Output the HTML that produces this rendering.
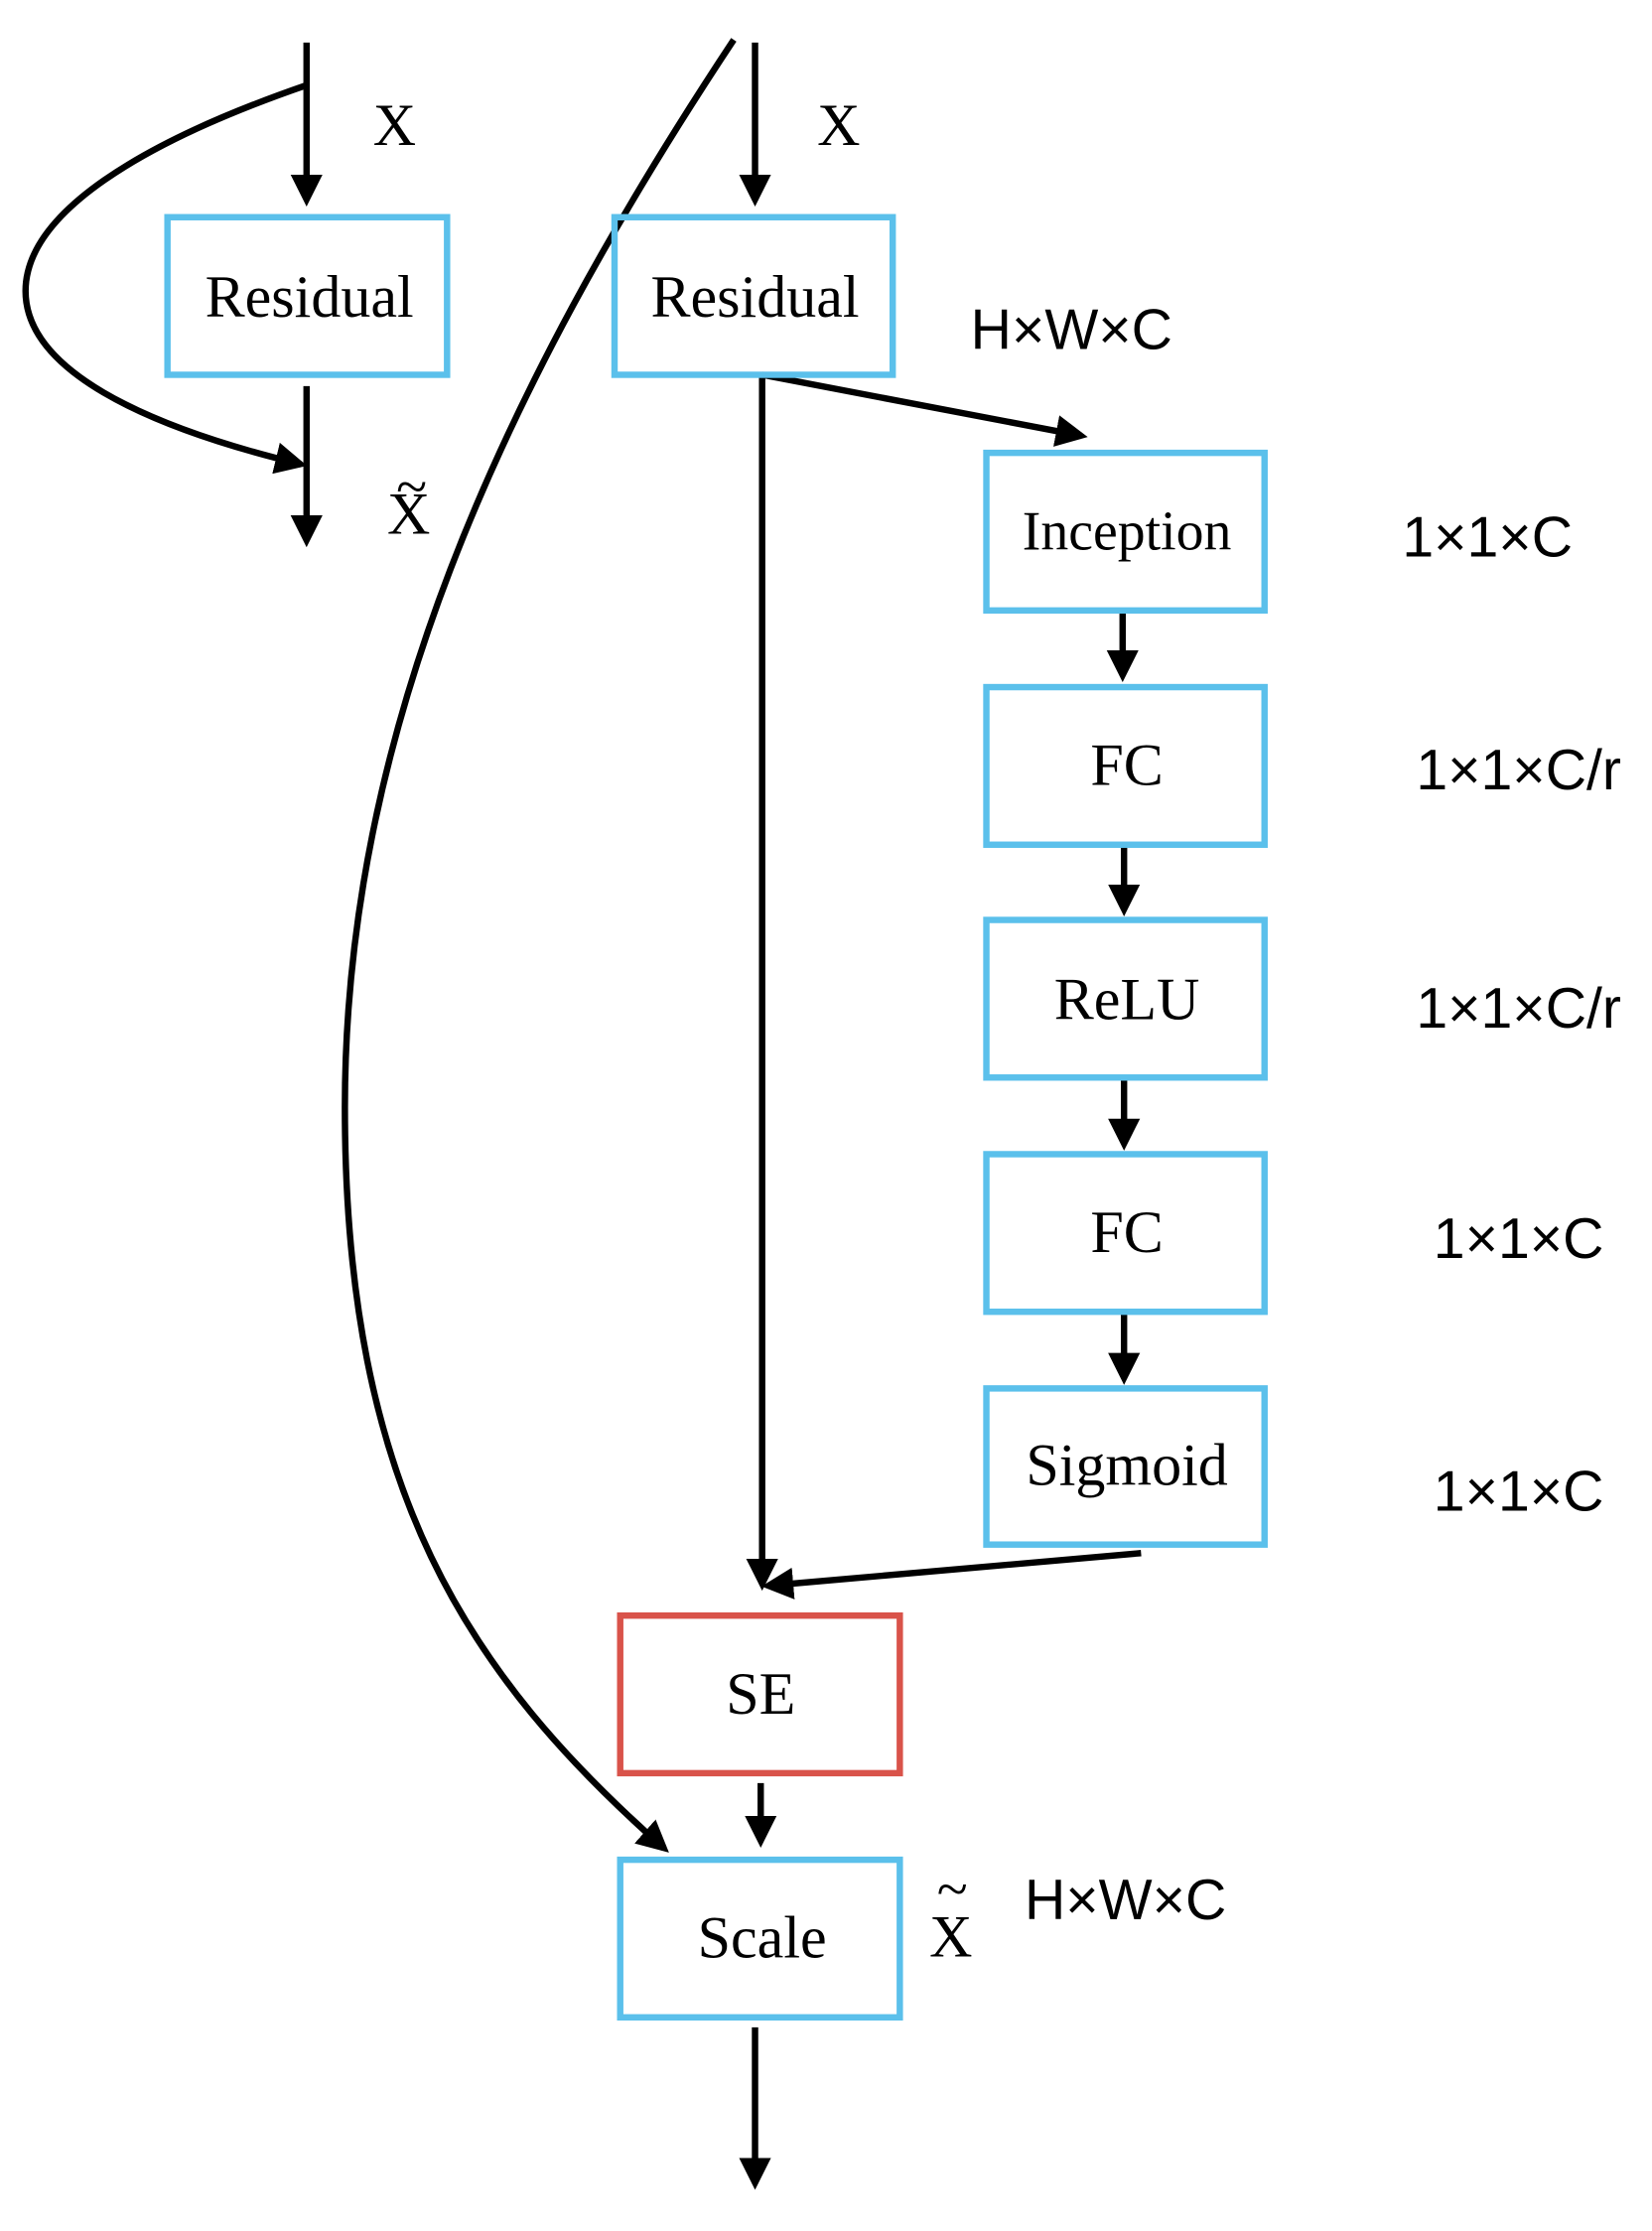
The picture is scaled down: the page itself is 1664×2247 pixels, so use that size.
<!DOCTYPE html>
<html><head><style>html,body{margin:0;padding:0;background:#fff}</style></head>
<body>
<svg width="1664" height="2242" viewBox="0 0 1164 1568" preserveAspectRatio="none" xmlns="http://www.w3.org/2000/svg">
<defs>
<marker id="a" markerWidth="5" markerHeight="5" refX="4" refY="2.5" orient="auto" markerUnits="strokeWidth">
<path d="M0,0 L5,2.5 L0,5 z" fill="#000"/></marker>
</defs>
<g stroke="#000" stroke-width="4.5" fill="none">
<line x1="216" y1="30" x2="216" y2="141" marker-end="url(#a)"/>
<line x1="216" y1="272" x2="216" y2="381" marker-end="url(#a)"/>
<path d="M216,60 C100,100 18,150 18,205 C18,260 100,300 212,327" marker-end="url(#a)"/>
<path d="M517,28 C350,280 243,520 243,780 C243,1050 330,1180 468,1302" marker-end="url(#a)"/>
<line x1="532" y1="30" x2="532" y2="141" marker-end="url(#a)"/>
<line x1="537" y1="264" x2="537" y2="1116" marker-end="url(#a)"/>
<line x1="537" y1="264" x2="762" y2="307" marker-end="url(#a)"/>
<line x1="791" y1="432" x2="791" y2="476" marker-end="url(#a)"/>
<line x1="792" y1="597" x2="792" y2="641" marker-end="url(#a)"/>
<line x1="792" y1="761" x2="792" y2="806" marker-end="url(#a)"/>
<line x1="792" y1="926" x2="792" y2="971" marker-end="url(#a)"/>
<line x1="804" y1="1094" x2="541" y2="1117" marker-end="url(#a)"/>
<line x1="536" y1="1256" x2="536" y2="1297" marker-end="url(#a)"/>
<line x1="532" y1="1428" x2="532" y2="1538" marker-end="url(#a)"/>
</g>
<g fill="none" stroke="#5bc0eb" stroke-width="4.5">
<rect x="118" y="153" width="197" height="111"/>
<rect x="433" y="153" width="196" height="111"/>
<rect x="695" y="319" width="196" height="111"/>
<rect x="695" y="484" width="196" height="111"/>
<rect x="695" y="648" width="196" height="111"/>
<rect x="695" y="813" width="196" height="111"/>
<rect x="695" y="978" width="196" height="110"/>
<rect x="437" y="1310" width="197" height="111"/>
</g>
<rect x="437" y="1138" width="197" height="111" fill="none" stroke="#d9534a" stroke-width="4.5"/>
<g font-family="Liberation Serif, serif" font-size="42" text-anchor="middle" fill="#000">
<text x="218" y="223">Residual</text>
<text x="532" y="223">Residual</text>
<text x="794" y="387" font-size="39">Inception</text>
<text x="794" y="553">FC</text>
<text x="794" y="718">ReLU</text>
<text x="794" y="882">FC</text>
<text x="794" y="1046">Sigmoid</text>
<text x="536" y="1207">SE</text>
<text x="537" y="1379">Scale</text>
<text x="278" y="102">X</text>
<text x="591" y="102">X</text>
<text x="288" y="376">X</text>
<text x="290" y="356" font-size="40">~</text>
<text x="670" y="1378">X</text>
<text x="671" y="1344" font-size="40">~</text>
</g>
<g font-family="Liberation Sans, sans-serif" font-size="40" text-anchor="middle" fill="#000">
<text x="755" y="246">H×W×C</text>
<text x="1048" y="392">1×1×C</text>
<text x="1070" y="556">1×1×C/r</text>
<text x="1070" y="724">1×1×C/r</text>
<text x="1070" y="886">1×1×C</text>
<text x="1070" y="1064">1×1×C</text>
<text x="793" y="1352">H×W×C</text>
</g>
</svg>
</body></html>
